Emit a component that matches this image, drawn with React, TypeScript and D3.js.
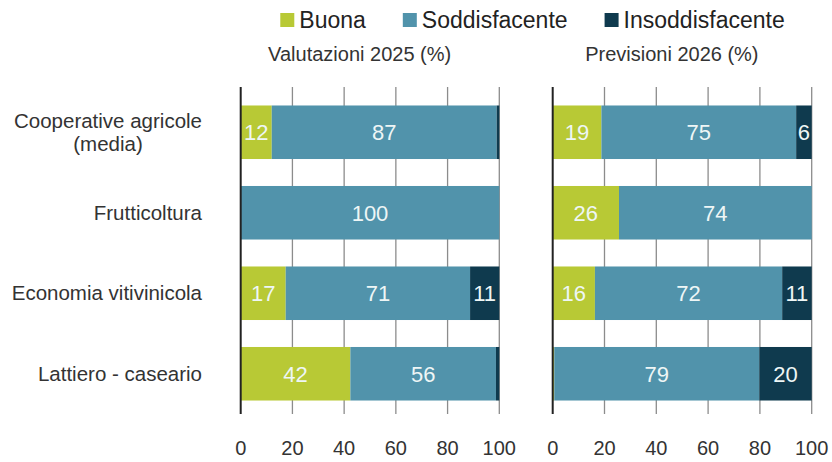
import React, { useEffect, useRef } from "react";
import * as d3 from "d3";

const categories = [
  "Cooperative agricole\n(media)",
  "Frutticoltura",
  "Economia vitivinicola",
  "Lattiero - caseario",
];
const seriesNames = ["Buona", "Soddisfacente", "Insoddisfacente"];
const seriesColors = ["#b8c935", "#5193ab", "#0f3a4e"];
const panelTitles = ["Valutazioni 2025 (%)", "Previsioni 2026 (%)"];

const buona2025 = [12, 0, 17.4, 42.4];
const soddisf2025 = [87, 100, 71.3, 56.3];
const insodd2025 = [1, 0, 11.3, 1.3];

const buona2026 = [18.8, 25.6, 16.3, 0.6];
const soddisf2026 = [75.2, 74.4, 72.3, 79.2];
const insodd2026 = [6, 0, 11.4, 20.2];

const xTicks = [0, 20, 40, 60, 80, 100];

const FONT = "'Liberation Sans', Arial, sans-serif";

export default function App() {
  const svgRef = useRef<SVGSVGElement>(null);
  const width = 832;
  const height = 462;

  useEffect(() => {
    const svg = d3.select(svgRef.current);
    svg.selectAll("*").remove();

    const panels = [
      { title: panelTitles[0], range: [240.7, 499.3], series: [buona2025, soddisf2025, insodd2025] },
      { title: panelTitles[1], range: [552.7, 811.7], series: [buona2026, soddisf2026, insodd2026] },
    ];

    const plotTop = 87;
    const plotBottom = 414;

    const y = d3
      .scaleBand<number>()
      .domain(d3.range(categories.length))
      .range([92, 414])
      .paddingInner(0.335)
      .paddingOuter(0.1675);

    // category labels (right aligned block, wrapped lines centred)
    const labelRight = 202;
    const lineH = 23.5;
    categories.forEach((c, i) => {
      const lines = c.split("\n");
      const cy = y(i)! + y.bandwidth() / 2;
      const g = svg.append("g");
      const texts = lines.map((ln, k) =>
        g
          .append("text")
          .attr("y", cy + 7 - ((lines.length - 1) * lineH) / 2 + k * lineH)
          .attr("font-family", FONT)
          .attr("font-size", 20.5)
          .attr("fill", "#333")
          .text(ln)
      );
      const widths = texts.map((t) => (t.node() as SVGTextElement).getComputedTextLength());
      const maxW = d3.max(widths) || 0;
      texts.forEach((t) => t.attr("x", labelRight - maxW / 2).attr("text-anchor", "middle"));
    });

    panels.forEach((p) => {
      const x = d3.scaleLinear().domain([0, 100]).range(p.range);
      const g = svg.append("g");

      // gridlines
      g.selectAll("line.grid")
        .data(xTicks.slice(1))
        .enter()
        .append("line")
        .attr("x1", (d) => x(d))
        .attr("x2", (d) => x(d))
        .attr("y1", plotTop)
        .attr("y2", plotBottom)
        .attr("stroke", "#8c8c8c")
        .attr("stroke-width", 1.3);

      // stacked bars
      const rows = categories.map((_, i) => p.series.map((s) => s[i]));
      rows.forEach((vals, i) => {
        let acc = 0;
        vals.forEach((v, k) => {
          const x0 = acc;
          acc += v;
          if (v <= 0) return;
          g.append("rect")
            .attr("x", x(x0))
            .attr("y", y(i)!)
            .attr("width", x(acc) - x(x0))
            .attr("height", y.bandwidth())
            .attr("fill", seriesColors[k]);
          if (v >= 3) {
            g.append("text")
              .attr("x", (x(x0) + x(acc)) / 2)
              .attr("y", y(i)! + y.bandwidth() / 2 + 8)
              .attr("text-anchor", "middle")
              .attr("font-family", FONT)
              .attr("font-size", 22)
              .attr("fill", "#eef6f6")
              .text(Math.round(v));
          }
        });
      });

      // zero axis
      g.append("line")
        .attr("x1", x(0))
        .attr("x2", x(0))
        .attr("y1", plotTop)
        .attr("y2", plotBottom)
        .attr("stroke", "#222")
        .attr("stroke-width", 2);

      // tick labels
      g.selectAll("text.tick")
        .data(xTicks)
        .enter()
        .append("text")
        .attr("x", (d) => x(d))
        .attr("y", 455)
        .attr("text-anchor", "middle")
        .attr("font-family", FONT)
        .attr("font-size", 20)
        .attr("fill", "#333")
        .text((d) => d);

      // panel title
      g.append("text")
        .attr("x", p.range[0] + (p.range[1] - p.range[0]) * 0.46)
        .attr("y", 61)
        .attr("text-anchor", "middle")
        .attr("font-family", FONT)
        .attr("font-size", 20)
        .attr("fill", "#333")
        .text(p.title);
    });

    // legend
    const leg = svg.append("g");
    let cx = 0;
    seriesNames.forEach((name, k) => {
      leg.append("rect")
        .attr("x", cx)
        .attr("y", 13)
        .attr("width", 14)
        .attr("height", 14)
        .attr("fill", seriesColors[k]);
      const t = leg
        .append("text")
        .attr("x", cx + 19)
        .attr("y", 28)
        .attr("font-family", FONT)
        .attr("font-size", 23)
        .attr("fill", "#222")
        .text(name);
      const w = (t.node() as SVGTextElement).getComputedTextLength();
      cx += 19 + w + (k < seriesNames.length - 1 ? 37 : 0);
    });
    leg.attr("transform", `translate(${532.5 - cx / 2},0)`);
  }, []);

  return (
    <svg
      ref={svgRef}
      width={width}
      height={height}
      style={{ position: "absolute", left: 0, top: 0, background: "#fff" }}
    ></svg>
  );
}
